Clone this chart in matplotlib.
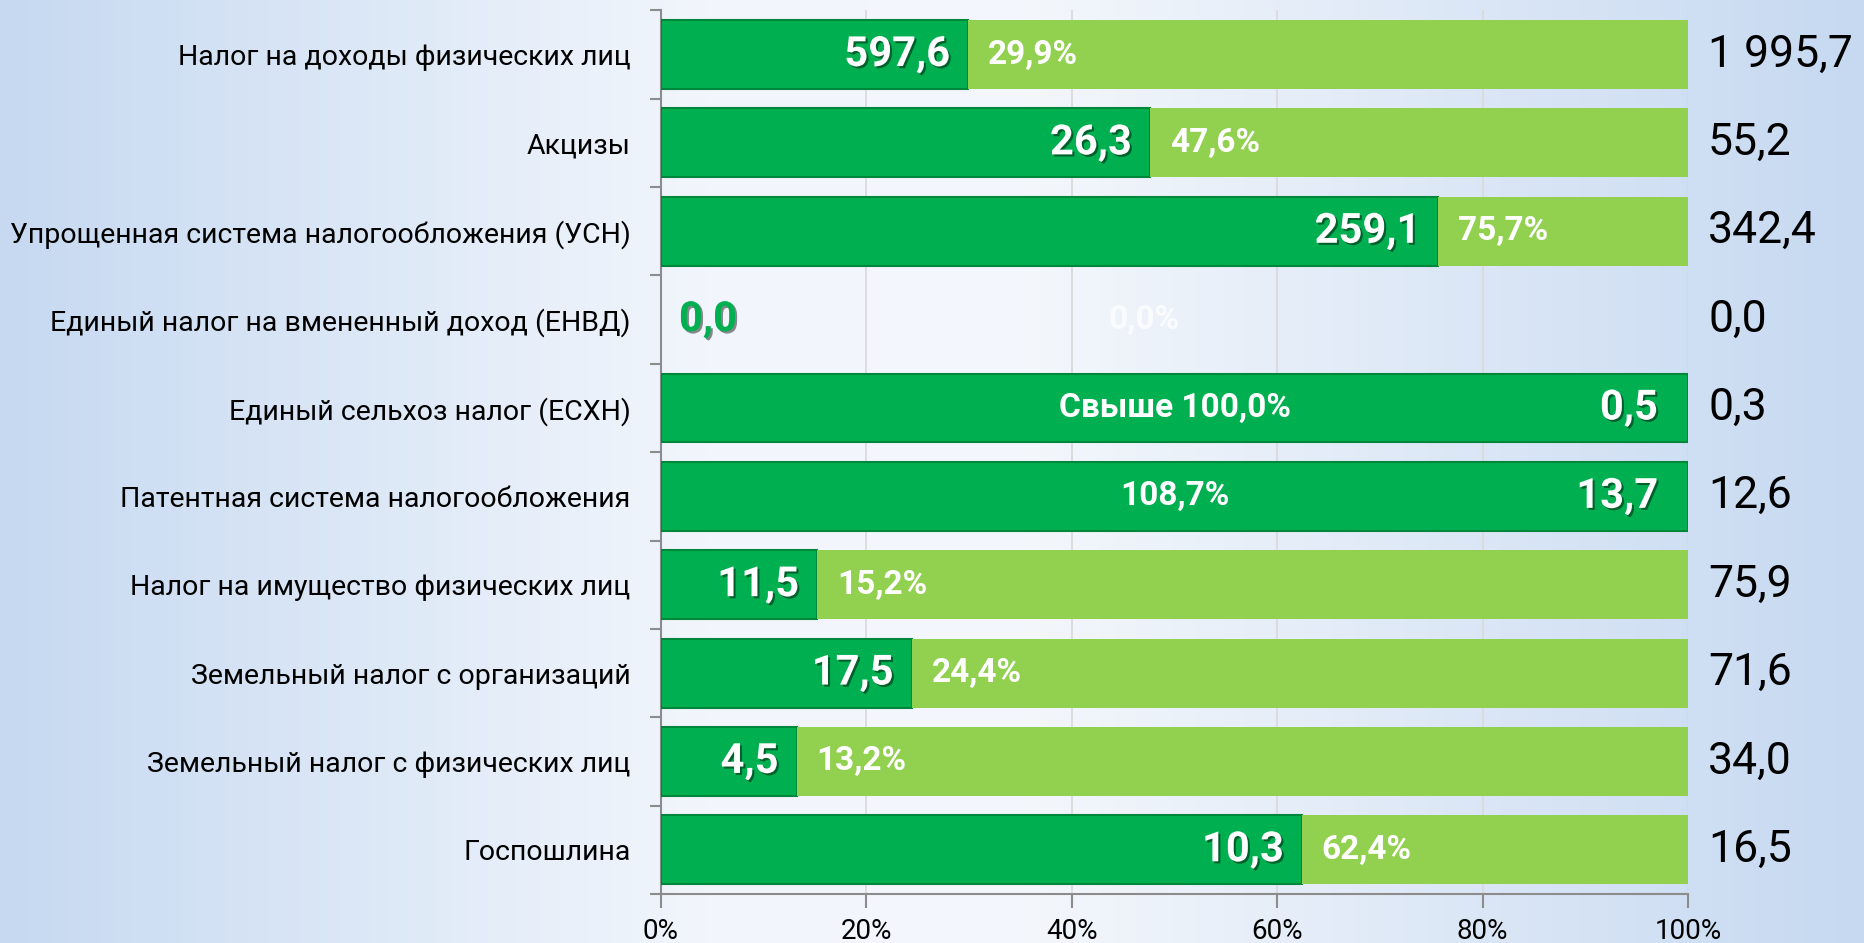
import matplotlib
matplotlib.use("Agg")
import matplotlib.pyplot as plt
import matplotlib.patheffects as pe
from matplotlib.colors import LinearSegmentedColormap
import numpy as np

plt.rcParams['font.family'] = ['Roboto', 'DejaVu Sans']

categories = [
    "Налог на доходы физических лиц",
    "Акцизы",
    "Упрощенная система налогообложения (УСН)",
    "Единый налог на вмененный доход (ЕНВД)",
    "Единый сельхоз налог (ЕСХН)",
    "Патентная система налогообложения",
    "Налог на имущество физических лиц",
    "Земельный налог с организаций",
    "Земельный налог с физических лиц",
    "Госпошлина",
]
fact = [597.6, 26.3, 259.1, 0.0, 0.5, 13.7, 11.5, 17.5, 4.5, 10.3]
plan = [1995.7, 55.2, 342.4, 0.0, 0.3, 12.6, 75.9, 71.6, 34.0, 16.5]
pct = [29.9, 47.6, 75.7, 0.0, 166.7, 108.7, 15.2, 24.4, 13.2, 62.4]
pct_labels = ["29,9%", "47,6%", "75,7%", "0,0%", "Свыше 100,0%", "108,7%",
              "15,2%", "24,4%", "13,2%", "62,4%"]
xticks = [0, 20, 40, 60, 80, 100]

DARK = "#00b050"
DARK_EDGE = "#00873c"
LIGHT = "#92d050"


def fmt(v):
    s = f"{v:,.1f}".replace(",", " ").replace(".", ",")
    return s


fig = plt.figure(figsize=(18.64, 9.43), dpi=100)

# background gradient
bg = fig.add_axes([0, 0, 1, 1], zorder=-5)
cmap = LinearSegmentedColormap.from_list(
    "bg", [(0.0, "#c6d9f1"), (0.38, "#f2f6fc"), (0.55, "#f4f7fc"), (1.0, "#c6d9f1")])
grad = np.linspace(0, 1, 512)[None, :]
bg.imshow(grad, aspect="auto", cmap=cmap, extent=[0, 1, 0, 1])
bg.axis("off")

ax = fig.add_axes([0.3546, 0.052, 0.5510, 0.937])
ax.patch.set_alpha(0)

y = np.arange(len(categories))
dark = [0.0 if p == 0 else min(v, 100.0) / 100.0 for v, p in zip(pct, plan)]
light = [0.0 if p == 0 else 1.0 - d for d, p in zip(dark, plan)]

ax.barh(y, dark, height=0.78, color=DARK, edgecolor=DARK_EDGE,
        linewidth=[1.5 if d > 0 else 0 for d in dark], zorder=3)
ax.barh(y, light, left=dark, height=0.78, color=LIGHT, edgecolor="none", zorder=3)

shadow = [pe.withSimplePatchShadow(offset=(1.5, -1.5), shadow_rgbFace="black", alpha=0.45)]

for i in range(len(categories)):
    if plan[i] == 0:
        ax.annotate(fmt(fact[i]), (0, i), xytext=(18, 0), textcoords="offset pixels",
                    ha="left", va="center", fontsize=30, fontweight="bold", color=DARK,
                    path_effects=shadow, zorder=5)
        ax.text(0.47, i, pct_labels[i], ha="center", va="center", fontsize=24,
                fontweight="bold", color="white", alpha=0.75, zorder=5)
    elif pct[i] >= 100:
        ax.annotate(fmt(fact[i]), (1.0, i), xytext=(-30, 0), textcoords="offset pixels",
                    ha="right", va="center", fontsize=30, fontweight="bold", color="white",
                    path_effects=shadow, zorder=5)
        ax.text(0.5, i, pct_labels[i], ha="center", va="center", fontsize=24,
                fontweight="bold", color="white", zorder=5)
    else:
        ax.annotate(fmt(fact[i]), (dark[i], i), xytext=(-18, 0), textcoords="offset pixels",
                    ha="right", va="center", fontsize=30, fontweight="bold", color="white",
                    path_effects=shadow, zorder=5)
        ax.annotate(pct_labels[i], (dark[i], i), xytext=(20, 0), textcoords="offset pixels",
                    ha="left", va="center", fontsize=24, fontweight="bold", color="white",
                    zorder=5)
    # plan values to the right of the axis
    ax.annotate(fmt(plan[i]), (1.0, i), xycoords=("axes fraction", "data"),
                xytext=(20, 0), textcoords="offset pixels", ha="left", va="center",
                fontsize=32, color="black", annotation_clip=False)

ax.set_xlim(0, 1)
ax.set_ylim(len(categories) - 0.5, -0.5)
ax.set_xticks([t / 100 for t in xticks])
ax.set_xticklabels([f"{t}%" for t in xticks], fontsize=20)
ax.set_yticks(y)
ax.set_yticklabels(categories, fontsize=20.5)
ax.set_yticks(np.arange(-0.5, len(categories), 1.0), minor=True)
ax.tick_params(axis="y", which="major", length=0, pad=22)
ax.tick_params(axis="y", which="minor", length=8, color="#8c8c8c", width=1.5, direction="out")
ax.tick_params(axis="x", length=10, color="#8c8c8c", width=1.5, pad=7)
ax.grid(axis="x", color="#d9d9d9", linewidth=1.2, zorder=0)
for side in ("top", "right"):
    ax.spines[side].set_visible(False)
for side in ("left", "bottom"):
    ax.spines[side].set_color("#8c8c8c")
    ax.spines[side].set_linewidth(1.5)

fig.savefig("out.png", dpi=100)
